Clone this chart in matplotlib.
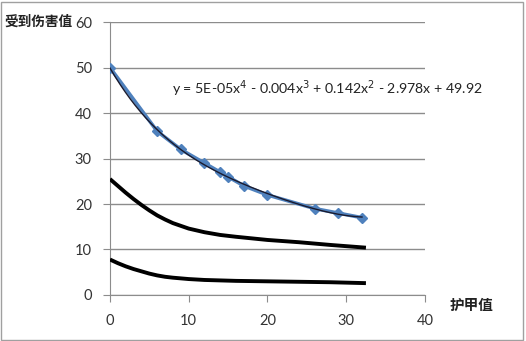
import matplotlib
matplotlib.use("Agg")
import matplotlib.pyplot as plt
import numpy as np
from matplotlib.patches import Rectangle

plt.rcParams['font.family'] = ['Lato', 'Noto Sans CJK SC', 'DejaVu Sans']

# measured damage points (blue diamonds)
armor = [0, 6, 9, 12, 14, 15, 17, 20, 26, 29, 32]
damage = [50, 36, 32, 29, 27, 26, 24, 22, 19, 18, 17]

# the two black curves
curve_x = [0, 1, 2, 3, 4, 5, 6, 7, 8, 10, 12, 14, 16, 20, 24, 28, 32.5]
upper_y = [25.5, 24.0, 22.5, 21.1, 19.8, 18.6, 17.5, 16.6, 15.8, 14.6, 13.8,
           13.2, 12.8, 12.1, 11.6, 11.0, 10.4]
lower_y = [7.8, 7.0, 6.3, 5.7, 5.2, 4.7, 4.3, 4.0, 3.8, 3.5, 3.3,
           3.2, 3.1, 3.0, 2.9, 2.8, 2.6]

fig = plt.figure(figsize=(5.26, 3.41), dpi=100)
ax = fig.add_axes([0.209, 0.135, 0.599, 0.80])

ax.plot(armor, damage, color='#4F81BD', lw=2.6, marker='D', ms=5,
        mfc='#4F81BD', mec='#4F81BD', zorder=3)
# 4th order polynomial trendline fitted to the points
coef = np.polyfit(armor, damage, 4)
xs = np.linspace(0, 32, 200)
ax.plot(xs, np.polyval(coef, xs), color='#1a1a2e', lw=1.0, zorder=4)

ax.plot(curve_x, upper_y, color='black', lw=2.8, zorder=3, solid_capstyle='butt')
ax.plot(curve_x, lower_y, color='black', lw=2.8, zorder=3, solid_capstyle='butt')

ax.set_xlim(0, 40)
ax.set_ylim(0, 60)
ax.set_xticks([0, 10, 20, 30, 40])
ax.set_yticks([0, 10, 20, 30, 40, 50, 60])
ax.yaxis.grid(True, color='#8c8c8c', lw=1.0)
ax.set_axisbelow(True)
for s in ['top', 'right']:
    ax.spines[s].set_visible(False)
for s in ['left', 'bottom']:
    ax.spines[s].set_color('#8c8c8c')
ax.tick_params(axis='both', colors='#8c8c8c', labelcolor='#333333',
               labelsize=10.5, length=5, direction='out')
ax.tick_params(axis='x', pad=9)
ax.tick_params(axis='y', pad=8)

ax.text(7.9, 45.4, 'y = 5E-05x$^4$ - 0.004x$^3$ + 0.142x$^2$ - 2.978x + 49.92',
        fontsize=10.2, color='#222222', va='center', ha='left')

fig.text(0.008, 0.935, '受到伤害值', fontsize=9.8, fontweight='bold',
         family=['Noto Sans CJK SC'], va='center', ha='left', color='#222222')
fig.text(0.855, 0.105, '护甲值', fontsize=10.5, fontweight='bold',
         family=['Noto Sans CJK SC'], va='center', ha='left', color='#222222')

fig.patches.append(Rectangle((0.002, 0.003), 0.993, 0.992, transform=fig.transFigure,
                             fill=False, edgecolor='#a0a0a0', lw=1.0))

fig.savefig('out.png', dpi=100)
